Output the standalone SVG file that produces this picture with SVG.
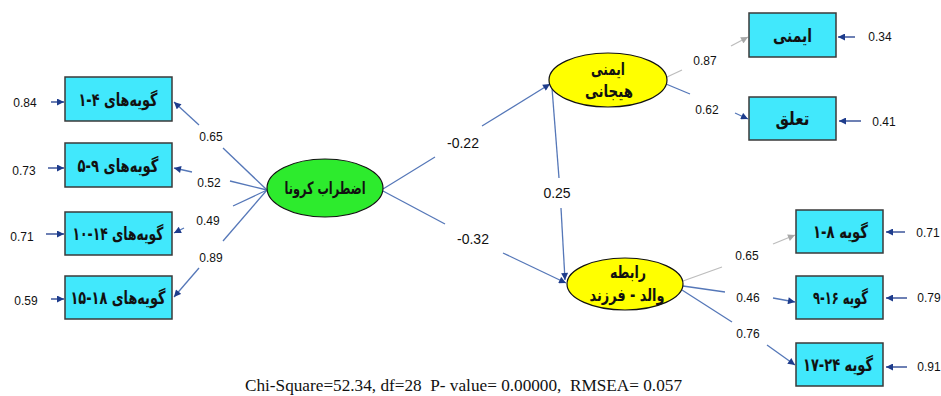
<svg xmlns="http://www.w3.org/2000/svg" width="941" height="396" viewBox="0 0 941 396">
<style>
.bg{fill:#ffffff}
.box{fill:#41E8FC;stroke:#3a3a3a;stroke-width:1.5}
.lat{fill:#FFFF00;stroke:#111;stroke-width:1.2}
.lat2{fill:#2DEB2D;stroke:#111;stroke-width:1.2}
.fa{font-family:"DejaVu Sans","Noto Sans",sans-serif;font-weight:bold;font-size:18px;fill:#111;text-anchor:middle;dominant-baseline:central}
.fe{font-size:17px}
.num{font-family:"Liberation Sans","Open Sans",sans-serif;font-size:12px;fill:#111;text-anchor:middle;dominant-baseline:central}
.big{font-family:"Liberation Sans","Open Sans",sans-serif;font-size:14px;fill:#111;text-anchor:middle;dominant-baseline:central}
.ln{stroke:#5577B8;stroke-width:1.3;fill:none}
.gl{stroke:#BDBDBD;stroke-width:1.3;fill:none}
.er{stroke:#1E3C8C;stroke-width:1.3;fill:none}
.fit{font-family:"Liberation Serif","DejaVu Serif",serif;font-size:17px;fill:#111;white-space:pre}
</style>
<defs>
<marker id="ah" viewBox="0 0 10 10" refX="10" refY="5" markerWidth="8" markerHeight="7" orient="auto" markerUnits="userSpaceOnUse"><path d="M0,0 L10,5 L0,10 z" fill="#1E3C8C"/></marker>
<marker id="ag" viewBox="0 0 10 10" refX="10" refY="5" markerWidth="8" markerHeight="7" orient="auto" markerUnits="userSpaceOnUse"><path d="M0,0 L10,5 L0,10 z" fill="#A8A8A8"/></marker>
</defs>
<rect class="bg" x="0" y="0" width="941" height="396"/>

<g id="connectors">
  <line class="ln" x1="267" y1="190" x2="223" y2="148"/>
  <line class="ln" x1="199" y1="125" x2="174" y2="102" marker-end="url(#ah)"/>
  <line class="ln" x1="267" y1="190" x2="230" y2="181"/>
  <line class="ln" x1="192" y1="172" x2="174" y2="168" marker-end="url(#ah)"/>
  <line class="ln" x1="267" y1="190" x2="233" y2="206"/>
  <line class="ln" x1="184" y1="228" x2="174" y2="233" marker-end="url(#ah)"/>
  <line class="ln" x1="267" y1="190" x2="223" y2="241"/>
  <line class="ln" x1="199" y1="268" x2="174" y2="297" marker-end="url(#ah)"/>
  <line class="ln" x1="383" y1="189" x2="435" y2="157"/>
  <line class="ln" x1="482" y1="126" x2="550" y2="84" marker-end="url(#ah)"/>
  <line class="ln" x1="383" y1="191" x2="445" y2="224"/>
  <line class="ln" x1="503" y1="253" x2="566" y2="283" marker-end="url(#ah)"/>
  <line class="ln" x1="552" y1="88" x2="559" y2="178"/>
  <line class="ln" x1="561" y1="208" x2="565" y2="280" marker-end="url(#ah)"/>
  <line class="gl" x1="667" y1="77" x2="682" y2="70"/>
  <line class="gl" x1="731" y1="46" x2="748" y2="37" marker-end="url(#ag)"/>
  <line class="ln" x1="666" y1="84" x2="690" y2="94"/>
  <line class="ln" x1="735" y1="113" x2="748" y2="119" marker-end="url(#ah)"/>
  <line class="gl" x1="683" y1="281" x2="722" y2="267"/>
  <line class="gl" x1="773" y1="244" x2="795" y2="235" marker-end="url(#ag)"/>
  <line class="ln" x1="683" y1="286" x2="725" y2="292"/>
  <line class="ln" x1="773" y1="298" x2="795" y2="302" marker-end="url(#ah)"/>
  <line class="ln" x1="682" y1="290" x2="732" y2="322"/>
  <line class="ln" x1="767" y1="345" x2="795" y2="365" marker-end="url(#ah)"/>
  <line class="er" x1="51" y1="102" x2="64" y2="102" marker-end="url(#ah)"/>
  <line class="er" x1="48" y1="168" x2="64" y2="168" marker-end="url(#ah)"/>
  <line class="er" x1="46" y1="234" x2="64" y2="234" marker-end="url(#ah)"/>
  <line class="er" x1="51" y1="299" x2="64" y2="299" marker-end="url(#ah)"/>
  <line class="er" x1="855" y1="37" x2="838" y2="37" marker-end="url(#ah)"/>
  <line class="er" x1="861" y1="121" x2="839" y2="121" marker-end="url(#ah)"/>
  <line class="er" x1="905" y1="232" x2="886" y2="232" marker-end="url(#ah)"/>
  <line class="er" x1="907" y1="298" x2="886" y2="298" marker-end="url(#ah)"/>
  <line class="er" x1="907" y1="367" x2="886" y2="367" marker-end="url(#ah)"/>
  <text class="num" x="211" y="137">0.65</text>
  <text class="num" x="209" y="183">0.52</text>
  <text class="num" x="208" y="221">0.49</text>
  <text class="num" x="211" y="258">0.89</text>
  <text class="big" x="463" y="143">-0.22</text>
  <text class="big" x="473" y="239">-0.32</text>
  <text class="big" x="557" y="193">0.25</text>
  <text class="num" x="705" y="61">0.87</text>
  <text class="num" x="707" y="110">0.62</text>
  <text class="num" x="747" y="256">0.65</text>
  <text class="num" x="748" y="298">0.46</text>
  <text class="num" x="748" y="334">0.76</text>
  <text class="num" x="25" y="103">0.84</text>
  <text class="num" x="24" y="171">0.73</text>
  <text class="num" x="22" y="237">0.71</text>
  <text class="num" x="26" y="301">0.59</text>
  <text class="num" x="880" y="37">0.34</text>
  <text class="num" x="884" y="122">0.41</text>
  <text class="num" x="928" y="233">0.71</text>
  <text class="num" x="929" y="298">0.79</text>
  <text class="num" x="929" y="367">0.91</text>
</g>

<g id="corona">
  <ellipse class="lat2" cx="325" cy="188" rx="58" ry="29"/>
  <text class="fa fe" x="325" y="188" textLength="81" lengthAdjust="spacingAndGlyphs">اضطراب کرونا</text>
</g>
<g id="emotional-security">
  <ellipse class="lat" cx="608" cy="80" rx="59" ry="27"/>
  <text class="fa fe" x="608" y="69" textLength="34" lengthAdjust="spacingAndGlyphs">ایمنی</text>
  <text class="fa fe" x="609" y="91" textLength="48" lengthAdjust="spacingAndGlyphs">هیجانی</text>
</g>
<g id="parent-child">
  <ellipse class="lat" cx="625" cy="284" rx="58" ry="26"/>
  <text class="fa fe" x="628" y="272" textLength="36" lengthAdjust="spacingAndGlyphs">رابطه</text>
  <text class="fa fe" x="627" y="295" textLength="75" lengthAdjust="spacingAndGlyphs">والد - فرزند</text>
</g>

<g id="item-1-4">
  <rect class="box" x="65" y="77" width="107" height="44"/>
  <text class="fa" x="118" y="99" textLength="79" lengthAdjust="spacingAndGlyphs">گویه‌های ۴-۱</text>
</g>
<g id="item-5-9">
  <rect class="box" x="65" y="143" width="107" height="44"/>
  <text class="fa" x="118" y="165" textLength="81" lengthAdjust="spacingAndGlyphs">گویه‌های ۹-۵</text>
</g>
<g id="item-10-14">
  <rect class="box" x="65" y="212" width="107" height="43"/>
  <text class="fa" x="118" y="233.5" textLength="91" lengthAdjust="spacingAndGlyphs">گویه‌های ۱۴-۱۰</text>
</g>
<g id="item-15-18">
  <rect class="box" x="65" y="276" width="107" height="43"/>
  <text class="fa" x="118" y="297.5" textLength="95" lengthAdjust="spacingAndGlyphs">گویه‌های ۱۸-۱۵</text>
</g>
<g id="security">
  <rect class="box" x="749" y="13" width="87" height="44"/>
  <text class="fa" x="792.5" y="35" textLength="39" lengthAdjust="spacingAndGlyphs">ایمنی</text>
</g>
<g id="attachment">
  <rect class="box" x="749" y="97" width="87" height="43"/>
  <text class="fa" x="792.5" y="118.5" textLength="34" lengthAdjust="spacingAndGlyphs">تعلق</text>
</g>
<g id="item-1-8">
  <rect class="box" x="796" y="210" width="87" height="43"/>
  <text class="fa" x="840.5" y="231.5" textLength="55" lengthAdjust="spacingAndGlyphs">گویه ۸-۱</text>
</g>
<g id="item-9-16">
  <rect class="box" x="796" y="276" width="87" height="43"/>
  <text class="fa" x="840.5" y="297.5" textLength="55" lengthAdjust="spacingAndGlyphs">گویه ۱۶-۹</text>
</g>
<g id="item-17-24">
  <rect class="box" x="796" y="343" width="87" height="43"/>
  <text class="fa" x="838" y="364.5" textLength="70" lengthAdjust="spacingAndGlyphs">گویه ۲۴-۱۷</text>
</g>

<text class="fit" x="245" y="391" textLength="437" lengthAdjust="spacingAndGlyphs" xml:space="preserve">Chi-Square=52.34, df=28  P- value= 0.00000,  RMSEA= 0.057</text>
</svg>
